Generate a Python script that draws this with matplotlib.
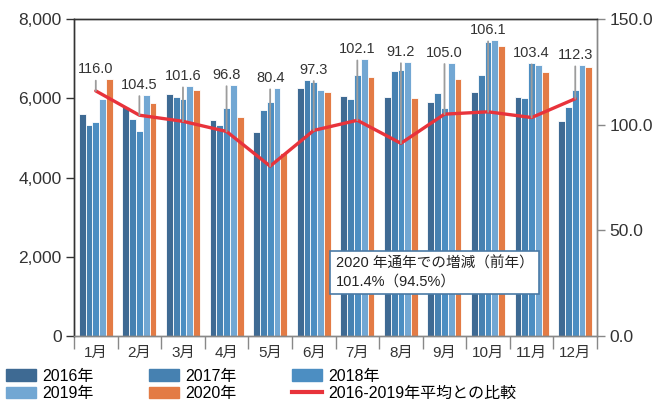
import numpy as np
import matplotlib
matplotlib.use('Agg')
import matplotlib.pyplot as plt
from matplotlib.transforms import offset_copy
from matplotlib.patches import Patch
from matplotlib.lines import Line2D

plt.rcParams['font.family'] = ['Liberation Sans', 'Noto Sans CJK JP']

months = ['1月', '2月', '3月', '4月', '5月', '6月', '7月', '8月', '9月', '10月', '11月', '12月']
years = ['2016年', '2017年', '2018年', '2019年', '2020年']
v2016 = [5610, 5780, 6110, 5450, 5150, 6260, 6060, 6040, 5910, 6160, 6040, 5430]
v2017 = [5330, 5480, 6040, 5330, 5710, 6470, 5990, 6700, 6140, 6590, 6010, 5780]
v2018 = [5400, 5180, 5970, 5760, 5910, 6420, 6590, 6720, 5760, 7420, 6890, 6200]
v2019 = [5990, 6090, 6310, 6340, 6260, 6220, 6990, 6920, 6900, 7470, 6840, 6840]
v2020 = [6480, 5880, 6220, 5530, 4620, 6160, 6540, 6010, 6490, 7320, 6670, 6790]
ratio = [116.0, 104.5, 101.6, 96.8, 80.4, 97.3, 102.1, 91.2, 105.0, 106.1, 103.4, 112.3]
line_label = '2016-2019年平均との比較'
box_text = '2020 年通年での増減（前年）\n101.4%（94.5%）'

colors = ['#3e6a93', '#4681b1', '#4c8ec2', '#72a7d3', '#e37b45']
series = [v2016, v2017, v2018, v2019, v2020]

fig = plt.figure(figsize=(6.59, 4.01), dpi=100)
ax = fig.add_axes([0.1123, 0.162, 0.7937, 0.7905])
ax2 = ax.twinx()

x = np.arange(len(months))
w = 0.156
for k, (vals, c) in enumerate(zip(series, colors)):
    ax.bar(x + (k - 2) * w, vals, w, color=c, edgecolor='white', linewidth=0.6, zorder=2)

ax.set_xlim(-0.5, 11.5)
ax.set_ylim(0, 8000)
ax.set_yticks([0, 2000, 4000, 6000, 8000])
ax.set_yticklabels([f'{v:,}' for v in [0, 2000, 4000, 6000, 8000]])
ax.tick_params(axis='y', length=6, width=1, color='#333333', labelsize=12.5, labelcolor='#333333', pad=3)
ax.set_xticks(x)
ax.set_xticklabels(months)
ax.tick_params(axis='x', length=0, labelsize=11, labelcolor='#333333', pad=7)
ax.set_xticks(np.arange(-0.5, 12, 1), minor=True)
ax.tick_params(axis='x', which='minor', length=9, width=1, color='#888888')

ax2.set_ylim(0, 150)
ax2.set_yticks([0, 50, 100, 150])
ax2.set_yticklabels([f'{v:.1f}' for v in [0, 50, 100, 150]])
ax2.tick_params(axis='y', length=6, width=1, color='#888888', labelsize=12.5, labelcolor='#333333', pad=3)

for a in (ax, ax2):
    a.spines['left'].set_color('#333333')
    a.spines['right'].set_color('#888888')
    a.spines['bottom'].set_color('#888888')
    a.spines['top'].set_color('#333333')
    for s in a.spines.values():
        s.set_linewidth(1)

ax2.plot(x, ratio, color='#e8333b', lw=2.4, zorder=3, solid_capstyle='round')

# ratio labels sit just above the tallest bar of each month, with a leader down to the line
tr = offset_copy(ax.transData, fig=fig, y=2, units='points')
tops = np.max(np.array(series), axis=0)
for i in range(len(months)):
    ax2.annotate(f'{ratio[i]:.1f}', xy=(i, ratio[i]), xycoords='data',
                 xytext=(i, tops[i]), textcoords=tr, ha='center', va='bottom',
                 fontsize=10.5, color='#333333', zorder=5,
                 arrowprops=dict(arrowstyle='-', color='#9c9c9c', lw=1.3,
                                 shrinkA=1, shrinkB=0))

ax2.text(0.5, 0.25, box_text, transform=ax.transAxes, fontsize=10.5, color='#222222',
         va='top', ha='left', linespacing=1.3, zorder=6,
         bbox=dict(boxstyle='square,pad=0.4', fc='white', ec='#4a7aa6', lw=1.2))

handles = [Patch(color=colors[0]), Patch(color=colors[3]), Patch(color=colors[1]),
           Patch(color=colors[4]), Patch(color=colors[2]),
           Line2D([], [], color='#e8333b', lw=3)]
labels = [years[0], years[3], years[1], years[4], years[2], line_label]
fig.legend(handles, labels, loc='upper left', bbox_to_anchor=(0.006, 0.085), ncol=3,
           frameon=False, fontsize=11.5, handlelength=1.9, handleheight=0.7,
           handletextpad=0.4, columnspacing=3.45, labelspacing=0.15, borderpad=0.1,
           borderaxespad=0)

fig.savefig('out.png', dpi=100)
